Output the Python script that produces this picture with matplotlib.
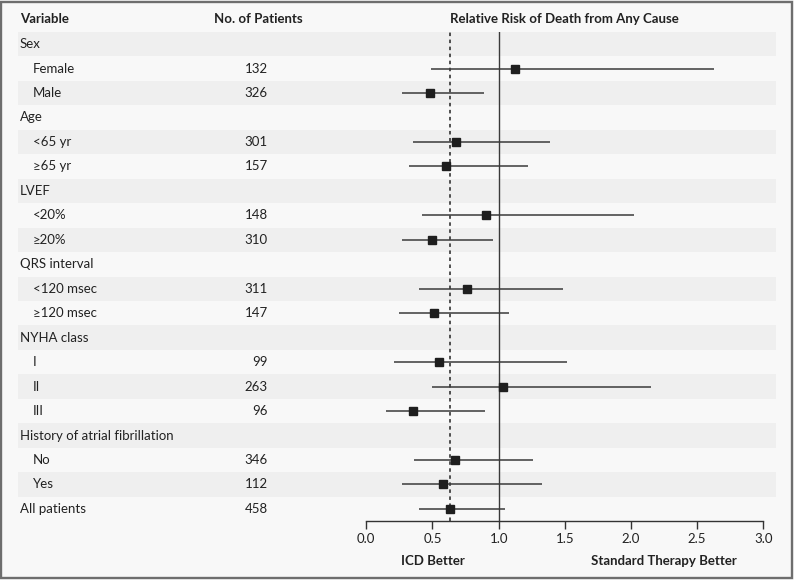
import matplotlib
matplotlib.use("Agg")
import matplotlib.pyplot as plt
from matplotlib.patches import Rectangle

plt.rcParams['font.family'] = ['Lato', 'DejaVu Sans']

labels = ["Sex", "Female", "Male", "Age", "<65 yr", "\u226565 yr", "LVEF", "<20%", "\u226520%",
          "QRS interval", "<120 msec", "\u2265120 msec", "NYHA class", "I", "II", "III",
          "History of atrial fibrillation", "No", "Yes", "All patients"]
is_sub = [False, True, True, False, True, True, False, True, True,
          False, True, True, False, True, True, True, False, True, True, False]
patients = ["", "132", "326", "", "301", "157", "", "148", "310",
            "", "311", "147", "", "99", "263", "96", "", "346", "112", "458"]
rr = [None, 1.12, 0.48, None, 0.68, 0.60, None, 0.905, 0.50,
      None, 0.76, 0.51, None, 0.55, 1.03, 0.35, None, 0.67, 0.58, 0.635]
lo = [None, 0.49, 0.27, None, 0.35, 0.32, None, 0.42, 0.27,
      None, 0.40, 0.25, None, 0.21, 0.50, 0.15, None, 0.36, 0.27, 0.40]
hi = [None, 2.63, 0.89, None, 1.39, 1.22, None, 2.02, 0.96,
      None, 1.49, 1.08, None, 1.52, 2.15, 0.90, None, 1.26, 1.33, 1.05]
xticks = [0.0, 0.5, 1.0, 1.5, 2.0, 2.5, 3.0]
overall_rr = rr[-1]

W, H = 794, 580
fig = plt.figure(figsize=(W / 100, H / 100), dpi=100)
fig.patch.set_facecolor('#f8f8f8')

# axes placement (pixels)
ax_l, ax_r = 366.3, 763.3
ax_top, ax_bot = 31.8, 521.2
ax = fig.add_axes([ax_l / W, 1 - ax_bot / H, (ax_r - ax_l) / W, (ax_bot - ax_top) / H])
ax.set_facecolor('none')
n = len(labels)
ax.set_xlim(0, 3)
ax.set_ylim(n - 0.5, -0.5)

def fx(px):
    return (px - ax_l) / (ax_r - ax_l)

tr = ax.get_yaxis_transform()

# stripes
for i in range(n):
    if i % 2 == 0:
        ax.add_patch(Rectangle((fx(18), i - 0.5), fx(776) - fx(18), 1, transform=tr,
                               facecolor='#efefef', edgecolor='none', clip_on=False, zorder=0))

# reference lines
ax.axvline(1.0, color='#3a3a3a', lw=1.0, zorder=1)
ax.axvline(overall_rr, color='#222222', lw=1.1, ls=(0, (2.3, 2.3)), zorder=1)

# CIs and points
for i in range(n):
    if rr[i] is None:
        continue
    ax.plot([lo[i], hi[i]], [i, i], color='#3a3a3a', lw=1.1, zorder=2, solid_capstyle='butt')
    ax.plot([rr[i]], [i], marker='s', ms=5.4, color='#1e1e1e', zorder=3)

# text columns
fs = 9.5
txtc = '#222222'
for i in range(n):
    ax.text(fx(33 if is_sub[i] else 20), i, labels[i], transform=tr, ha='left', va='center',
            fontsize=fs, color=txtc)
    if patients[i]:
        ax.text(fx(267.5), i, patients[i], transform=tr, ha='right', va='center',
                fontsize=fs, color=txtc)

hy = -1.02
ax.text(fx(20), hy, "Variable", transform=tr, ha='left', va='center', fontsize=fs,
        fontweight='bold', color=txtc)
ax.text(fx(258), hy, "No. of Patients", transform=tr, ha='center', va='center', fontsize=fs,
        fontweight='bold', color=txtc)
ax.text(1.5, hy, "Relative Risk of Death from Any Cause", ha='center', va='center',
        fontsize=fs, fontweight='bold', color=txtc)

# axis styling
for s in ['top', 'right', 'left']:
    ax.spines[s].set_visible(False)
ax.spines['bottom'].set_color('#333333')
ax.spines['bottom'].set_linewidth(1.0)
ax.set_yticks([])
ax.set_xticks(xticks)
ax.set_xticklabels([f"{t:.1f}" for t in xticks])
ax.tick_params(axis='x', direction='out', length=6, width=1.0, color='#333333',
               labelsize=fs, labelcolor=txtc, pad=2.5)

ylab = 1 - (560.5 - ax_top) / (ax_bot - ax_top)
ax.text(0.5, ylab, "ICD Better", transform=ax.get_xaxis_transform(),
        ha='center', va='center', fontsize=fs, fontweight='bold', color=txtc)
ax.text(2.25, ylab, "Standard Therapy Better",
        transform=ax.get_xaxis_transform(), ha='center', va='center', fontsize=fs,
        fontweight='bold', color=txtc)

# frame border
fig.patches.append(Rectangle((1 / W, 2 / H), (W - 3) / W, (H - 4) / H, transform=fig.transFigure,
                             facecolor='none', edgecolor='#6e6e6e', lw=1.7))

fig.savefig("out.png", dpi=100, facecolor=fig.get_facecolor())
